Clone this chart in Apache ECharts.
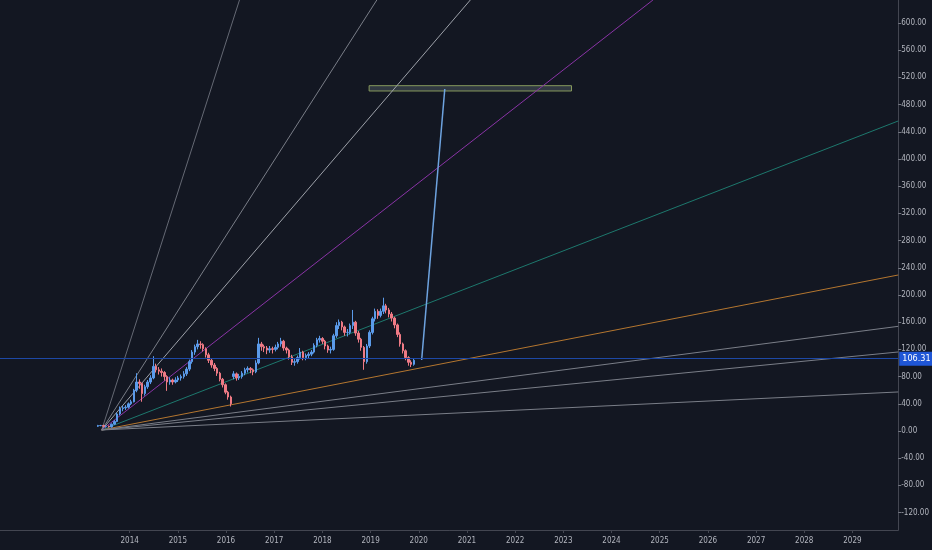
<!DOCTYPE html>
<html>
<head>
<meta charset="utf-8">
<script src="https://cdn.jsdelivr.net/npm/echarts@6/dist/echarts.min.js"></script>
<style>
  html, body { margin: 0; padding: 0; background: #131722; }
  #main { width: 932px; height: 550px; }
</style>
</head>
<body>
<div id="main"></div>
<script>
// 3-week bars, first bar date and spacing in decimal years
var barStart = 2013.34;
var barStep = 3 / 52.14;

// [open, close, low, high]
var ohlc = [
  [7, 8, 6, 9], [8, 8, 7, 9], [8, 7, 6, 9], [7, 7, 5, 8], [7, 6, 5, 8],
  [6, 10, 5, 11], [10, 14, 9, 16], [14, 25, 13, 27], [25, 33, 23, 36], [33, 34, 29, 37],
  [34, 35, 31, 38], [35, 40, 33, 42], [40, 43, 38, 46], [43, 60, 42, 62], [60, 72, 57, 85],
  [72, 70, 62, 76], [70, 55, 43, 71], [55, 65, 52, 68], [65, 72, 62, 75], [72, 78, 69, 82],
  [78, 95, 76, 110], [95, 90, 86, 99], [90, 88, 83, 94], [88, 86, 80, 92], [86, 80, 74, 88],
  [80, 72, 59, 82], [72, 75, 68, 79], [75, 72, 68, 77], [72, 75, 70, 79], [75, 78, 72, 81],
  [78, 80, 74, 83], [80, 84, 77, 88], [84, 91, 81, 94], [91, 102, 88, 105], [102, 116, 99, 119],
  [116, 124, 112, 127], [124, 128, 120, 134], [128, 127, 121, 132], [127, 121, 117, 129], [121, 112, 108, 123],
  [112, 104, 100, 115], [104, 97, 93, 107], [97, 92, 88, 100], [92, 85, 81, 94], [85, 76, 73, 87],
  [76, 68, 64, 78], [68, 57, 54, 70], [57, 50, 46, 59], [50, 40, 36, 52], [80, 84, 76, 88],
  [84, 78, 74, 86], [78, 80, 75, 84], [80, 85, 77, 88], [85, 90, 82, 93], [90, 92, 86, 95],
  [92, 90, 85, 94], [90, 87, 82, 92], [87, 100, 85, 104], [100, 128, 98, 137], [128, 124, 118, 131],
  [124, 122, 116, 127], [122, 119, 113, 125], [119, 121, 115, 125], [121, 120, 114, 124], [120, 123, 117, 127],
  [123, 128, 120, 131], [128, 132, 124, 137], [132, 122, 118, 134], [122, 119, 114, 124], [119, 109, 105, 121],
  [109, 101, 97, 112], [101, 102, 96, 106], [102, 108, 99, 111], [108, 116, 105, 122], [116, 108, 104, 118],
  [108, 111, 104, 114], [111, 113, 107, 116], [113, 116, 110, 119], [116, 126, 114, 129], [126, 134, 123, 137],
  [134, 136, 130, 140], [136, 132, 128, 138], [132, 125, 120, 134], [125, 119, 115, 127], [119, 120, 114, 124],
  [120, 140, 118, 143], [140, 155, 137, 160], [155, 160, 150, 164], [160, 153, 148, 162], [153, 145, 140, 155],
  [145, 145, 139, 150], [145, 155, 142, 158], [155, 160, 150, 178], [160, 144, 140, 162], [144, 135, 130, 147],
  [135, 123, 118, 137], [123, 102, 90, 125], [102, 125, 99, 128], [125, 145, 122, 148], [145, 165, 142, 168],
  [165, 176, 161, 180], [176, 170, 165, 179], [170, 176, 167, 180], [176, 184, 172, 196], [184, 178, 173, 187],
  [178, 172, 167, 181], [172, 166, 161, 175], [166, 156, 151, 168], [156, 142, 138, 158], [142, 128, 124, 145],
  [128, 118, 114, 130], [118, 108, 104, 120], [108, 101, 96, 110], [101, 98, 94, 104], [98, 104, 96, 107]
];

var lastPrice = 106.31;

// gann fan: origin and the point where each ray leaves the chart
var fanOrigin = [2013.42, 1.5];
var fanEnds = [
  [2016.28, 633.8],
  [2019.13, 633.8],
  [2021.07, 633.8],
  [2024.86, 633.8],
  [2029.95, 455.9],
  [2029.95, 229.4],
  [2029.95, 153.9],
  [2029.95, 116.2],
  [2029.95, 57.4]
];
var fanColors = ['#656974', '#7a7e88', '#9ea2aa', '#8a34a6', '#1d786d', '#b4762f', '#7a7e88', '#7a7e88', '#7a7e88'];

// projection line and target box
var projLine = [[2020.06, 104.4], [2020.54, 502.9]];
var targetBox = [[2018.97, 507.8], [2023.17, 500.0]];

var yearTicks = [2014, 2015, 2016, 2017, 2018, 2019, 2020, 2021, 2022, 2023, 2024, 2025, 2026, 2027, 2028, 2029];
var priceTicks = [-120, -80, -40, 0, 40, 80, 120, 160, 200, 240, 280, 320, 360, 400, 440, 480, 520, 560, 600];

var candles = ohlc.map(function (d, i) {
  return [barStart + i * barStep, d[0], d[1], d[2], d[3]];
});

var labelFont = 'DejaVu Sans Condensed';

var series = [];
fanEnds.forEach(function (end, i) {
  series.push({
    type: 'line',
    data: [fanOrigin, end],
    symbol: 'none',
    clip: true,
    lineStyle: { color: fanColors[i], width: 1 },
    z: 2
  });
});

series.push({
  type: 'candlestick',
  data: candles,
  barWidth: 2,
  itemStyle: {
    color: '#5b9bea',
    color0: '#ef7a85',
    borderColor: '#5b9bea',
    borderColor0: '#ef7a85',
    borderWidth: 1
  },
  markLine: {
    silent: true,
    symbol: ['none', 'none'],
    data: [{ yAxis: lastPrice }],
    lineStyle: { color: '#1d48a6', width: 1.2, type: 'solid' },
    label: {
      position: 'end',
      distance: 1,
      formatter: lastPrice.toFixed(2),
      backgroundColor: '#1f56d6',
      color: '#ffffff',
      fontFamily: labelFont,
      fontSize: 9,
      padding: [3, 3, 2, 3]
    }
  },
  z: 3
});

series.push({
  type: 'line',
  data: projLine,
  symbol: 'none',
  lineStyle: { color: '#6ea3df', width: 1.5 },
  markArea: {
    silent: true,
    itemStyle: {
      color: 'rgba(70, 80, 88, 0.6)',
      borderColor: '#86995c',
      borderWidth: 1
    },
    data: [[{ coord: targetBox[0] }, { coord: targetBox[1] }]]
  },
  z: 4
});

var myChart = echarts.init(document.getElementById('main'));
var option = {
  backgroundColor: '#131722',
  animation: false,
  grid: { left: 0, right: 31, top: 0, bottom: 20, containLabel: false },
  xAxis: {
    type: 'value',
    min: 2011.31,
    max: 2029.95,
    splitLine: { show: false },
    axisLine: { show: true, onZero: false, lineStyle: { color: '#434651' } },
    axisTick: { show: true, length: 3, customValues: yearTicks, lineStyle: { color: '#434651' } },
    axisLabel: {
      customValues: yearTicks,
      color: '#b2b5be',
      fontFamily: labelFont,
      fontSize: 8,
      margin: 7,
      formatter: function (v) { return String(Math.round(v)); }
    }
  },
  yAxis: {
    type: 'value',
    position: 'right',
    min: -145.6,
    max: 633.8,
    scale: true,
    splitLine: { show: false },
    axisLine: { show: true, onZero: false, lineStyle: { color: '#434651' } },
    axisTick: { show: true, length: 3, customValues: priceTicks, lineStyle: { color: '#787b86' } },
    axisLabel: {
      customValues: priceTicks,
      color: '#b2b5be',
      fontFamily: labelFont,
      fontSize: 8,
      margin: 3,
      formatter: function (v) { return v.toFixed(2); }
    }
  },
  series: series
};
myChart.setOption(option);
</script>
</body>
</html>
